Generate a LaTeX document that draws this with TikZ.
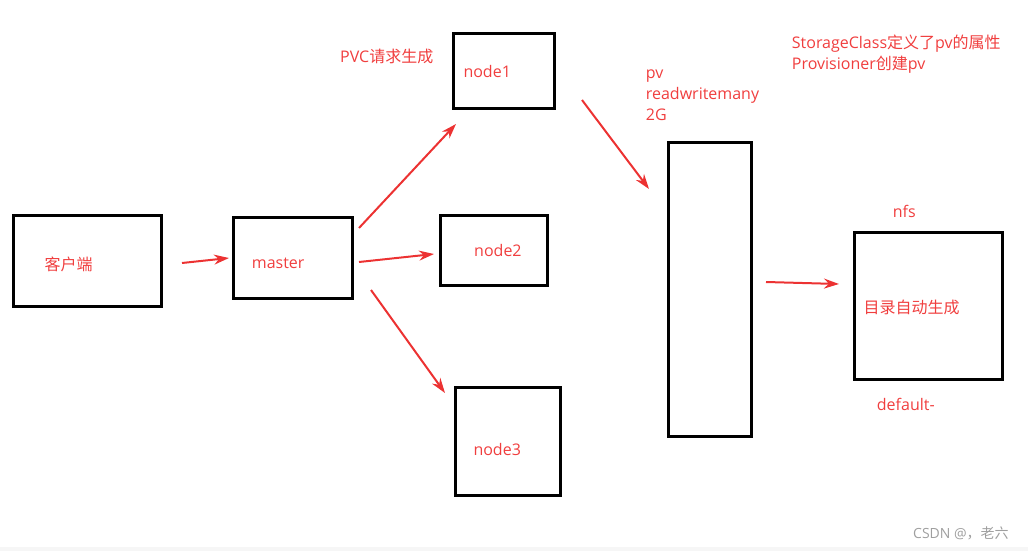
\documentclass[tikz,border=0pt]{standalone}
\usepackage{fontspec}
\setmainfont{Open Sans}
\newfontfamily\cjk{Noto Sans CJK SC}
\usetikzlibrary{arrows.meta}
\definecolor{inkred}{RGB}{240,62,62}
\definecolor{arrowred}{RGB}{236,50,50}

\begin{document}
\begin{tikzpicture}[x=1pt, y=-1pt, font=\fontsize{16}{21}\selectfont,
  box/.style={draw, line width=2.8pt, inner sep=0pt, outer sep=0pt},
  lbl/.style={anchor=base west, inner sep=0pt, text=inkred},
  arr/.style={draw=arrowred, line width=2pt, -{Stealth[length=15pt, width=10pt]}}]
\useasboundingbox (0,0) rectangle (1028,551);
\fill [gray!7] (0,547) rectangle (1028,551);
% boxes
\node [box, minimum width=148.4, minimum height=91.4] (client) at (87.5,261) {};
\node [box, minimum width=119.4, minimum height=81.4] (master) at (293,258) {};
\node [box, minimum width=101.4, minimum height=75.4] (node1) at (504,71) {};
\node [box, minimum width=107.4, minimum height=70.4] (node2) at (494,250.5) {};
\node [box, minimum width=105.4, minimum height=108.4] (node3) at (508,441.5) {};
\node [box, minimum width=83.4, minimum height=294.4] (pv) at (710,289.5) {};
\node [box, minimum width=148.4, minimum height=147.4] (nfs) at (928.5,306) {};
% labels
\node [lbl] (clienttext) at (44.3,270) {\cjk 客户端};
\node [lbl] (mastertext) at (251.7,268) {master};
\node [lbl] (node1text) at (463.3,77.3) {node1};
\node [lbl] (node2text) at (474,256.5) {node2};
\node [lbl] (node3text) at (473.3,455.7) {node3};
\node [lbl] (pvctext) at (340,62.7) {PVC{\cjk 请求生成}};
\node [lbl] (pvname) at (645.7,78.3) {pv};
\node [lbl] (pvmode) at (645.7,99.3) {readwritemany};
\node [lbl] (pvsize) at (645.7,120.7) {2G};
\node [lbl] (sctext) at (791.7,48.3) {StorageClass{\cjk 定义了}pv{\cjk 的属性}};
\node [lbl] (provtext) at (791.7,69.3) {Provisioner{\cjk 创建}pv};
\node [lbl] (nfstext) at (892.7,217.7) {nfs};
\node [lbl] (dirtext) at (863.3,313) {\cjk 目录自动生成};
\node [lbl] (deftext) at (876.7,410) {default-};
\node [lbl, text=gray!75, font=\fontsize{14}{16}\selectfont] (mark) at (913,538) {CSDN @{\cjk ，老六}};
% arrows
\coordinate (a1) at (182,263);
\coordinate (a2) at (229,258);
\coordinate (b1) at (359,228);
\coordinate (b2) at (456,124);
\coordinate (c1) at (359,262);
\coordinate (c2) at (434,254);
\coordinate (d1) at (371,290);
\coordinate (d2) at (445,393);
\coordinate (e1) at (582,100);
\coordinate (e2) at (649,189);
\coordinate (f1) at (766,282);
\coordinate (f2) at (839,284);
\draw [arr] (a1) -- (a2);
\draw [arr] (b1) -- (b2);
\draw [arr] (c1) -- (c2);
\draw [arr] (d1) -- (d2);
\draw [arr] (e1) -- (e2);
\draw [arr] (f1) -- (f2);
\end{tikzpicture}
\end{document}
